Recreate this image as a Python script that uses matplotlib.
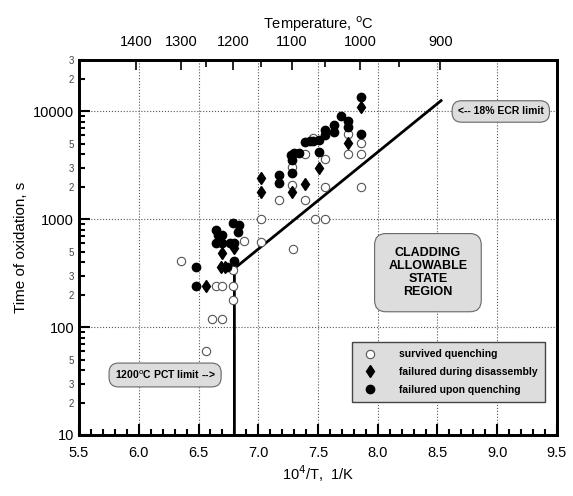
import numpy as np
import matplotlib.pyplot as plt
from matplotlib.ticker import FixedLocator, FixedFormatter, NullFormatter

plt.rcParams['font.family'] = ['Liberation Sans', 'DejaVu Sans']

# survived quenching (open circles)
surv_x = [6.35, 6.56, 6.61, 6.70, 6.65, 6.70, 6.79, 6.79, 6.79, 6.88, 7.02, 7.02,
          7.17, 7.28, 7.28, 7.29, 7.39, 7.39, 7.46, 7.475, 7.56, 7.56, 7.56,
          7.75, 7.75, 7.86, 7.86, 7.86]
surv_t = [415, 60, 119, 119, 239, 239, 239, 180, 340, 625, 1000, 610,
          1515, 2090, 3040, 530, 1515, 4040, 5650, 1000, 1000, 2010, 3610,
          6150, 4040, 5070, 4040, 1980]

# failured during disassembly (diamonds)
dis_x = [6.56, 6.70, 6.80, 6.69, 6.72, 7.02, 7.02, 7.28, 7.39, 7.51, 7.75, 7.86]
dis_t = [239, 487, 540, 360, 360, 2400, 1800, 1800, 2140, 3000, 5070, 11100]

# failured upon quenching (filled circles)
que_x = [6.48, 6.48, 6.65, 6.66, 6.70, 6.65, 6.70, 6.76, 6.80, 6.79, 6.84, 6.83,
         6.80, 6.74, 7.17, 7.17, 7.27, 7.30, 7.34, 7.28, 7.28, 7.51, 7.39, 7.43,
         7.46, 7.51, 7.56, 7.56, 7.63, 7.63, 7.69, 7.75, 7.75, 7.86, 7.86]
que_t = [360, 239, 800, 720, 720, 600, 600, 600, 600, 920, 890, 770,
         415, 360, 2580, 2160, 3950, 4100, 4100, 3560, 2680, 4250, 5250, 5300,
         5300, 5440, 6050, 6740, 6500, 7500, 9080, 8220, 7250, 6150, 13550]

# limit line (1200 C PCT vertical + 18% ECR)
lim_x = [6.8, 6.8, 8.53]
lim_t = [10, 350, 12600]

temps_major = [1400, 1300, 1200, 1100, 1000, 900]
temps_minor = [1250, 1150, 1050, 950]

fig = plt.figure(figsize=(5.73, 4.96), dpi=100)
ax = fig.add_axes([0.138, 0.123, 0.834, 0.756])

ax.set_yscale('log')
ax.set_xlim(5.5, 9.5)
ax.set_ylim(10, 30000)

ax.plot(lim_x, lim_t, color='black', lw=2, zorder=3)

ax.plot(surv_x, surv_t, 'o', mfc='white', mec='#555555', mew=0.8, ms=6,
        ls='none', label='survived quenching', zorder=4)
ax.plot(dis_x, dis_t, 'd', color='black', ms=6.5, ls='none',
        label='failured during disassembly', zorder=4)
ax.plot(que_x, que_t, 'o', color='black', ms=6, ls='none',
        label='failured upon quenching', zorder=4)

# ticks
ax.xaxis.set_major_locator(FixedLocator(np.arange(5.5, 9.51, 0.5)))
ax.xaxis.set_minor_locator(FixedLocator(np.arange(5.5, 9.51, 0.1)))
ax.set_xticklabels(['%.1f' % v for v in np.arange(5.5, 9.51, 0.5)], fontsize=10.5)

ax.yaxis.set_major_locator(FixedLocator([10, 100, 1000, 10000]))
ax.set_yticklabels(['10', '100', '1000', '10000'], fontsize=10.5)
minor_y = []
minor_lab = []
for dec in [10, 100, 1000, 10000]:
    for m in range(2, 10):
        v = dec * m
        if v > 30000:
            break
        minor_y.append(v)
        minor_lab.append(str(m) if m in (2, 3, 5) else '')
ax.yaxis.set_minor_locator(FixedLocator(minor_y))
ax.yaxis.set_minor_formatter(FixedFormatter(minor_lab))
ax.tick_params(axis='y', which='minor', labelsize=7, labelcolor='#444444')

ax.tick_params(which='both', direction='in', width=1.5)
ax.tick_params(which='major', length=8)
ax.tick_params(which='minor', length=4)
ax.tick_params(axis='x', which='major', pad=8)
for s in ax.spines.values():
    s.set_linewidth(2)

# dotted grid
for gx in np.arange(6.0, 9.01, 0.5):
    ax.axvline(gx, color='#555555', ls=':', lw=0.8, zorder=1)
for gy in [100, 1000, 10000]:
    ax.axhline(gy, color='#555555', ls=':', lw=0.8, zorder=1)

ax.set_xlabel(r'10$^4$/T,  1/K', fontsize=10.5, labelpad=2)
ax.set_ylabel('Time of oxidation, s', fontsize=11, labelpad=4)

# top temperature axis
top = ax.twiny()
top.set_xlim(ax.get_xlim())
top.xaxis.set_major_locator(FixedLocator([1e4 / (t + 273.15) for t in temps_major]))
top.xaxis.set_minor_locator(FixedLocator([1e4 / (t + 273.15) for t in temps_minor]))
top.set_xticklabels([str(t) for t in temps_major], fontsize=10.5)
top.xaxis.set_minor_formatter(NullFormatter())
top.tick_params(which='both', direction='in', width=1.2, pad=8)
top.tick_params(which='major', length=7)
top.tick_params(which='minor', length=5)
top.set_xlabel(r'Temperature, $^{\rm o}$C', fontsize=10.5, labelpad=4)
for s in top.spines.values():
    s.set_linewidth(2)

# annotations
box = dict(boxstyle='round,pad=0.55,rounding_size=0.9', fc='#dddddd', ec='#666666', lw=0.8)
ax.text(9.03, 10000, '<-- 18% ECR limit', fontsize=7.5, fontweight='bold',
        ha='center', va='center', bbox=box, zorder=5)
ax.text(6.22, 36, '1200$^{\\rm o}$C PCT limit -->', fontsize=7.5, fontweight='bold',
        ha='center', va='center', bbox=box, zorder=5)
ax.text(8.42, 320, 'CLADDING\nALLOWABLE\nSTATE\nREGION', fontsize=9,
        fontweight='bold', ha='center', va='center', linespacing=1.1,
        bbox=dict(boxstyle='round,pad=1.1,rounding_size=0.9', fc='#dddddd',
                  ec='#666666', lw=0.8), zorder=5)

leg = ax.legend(loc='upper left', bbox_to_anchor=(0.56, 0.262), fontsize=7.5,
                frameon=True, fancybox=False, handletextpad=1.8, borderpad=0.7,
                labelspacing=0.75)
leg.get_frame().set_facecolor('#dddddd')
leg.get_frame().set_edgecolor('#444444')
leg.get_frame().set_alpha(1)
for t in leg.get_texts():
    t.set_fontweight('bold')

fig.savefig('out.png', dpi=100)
